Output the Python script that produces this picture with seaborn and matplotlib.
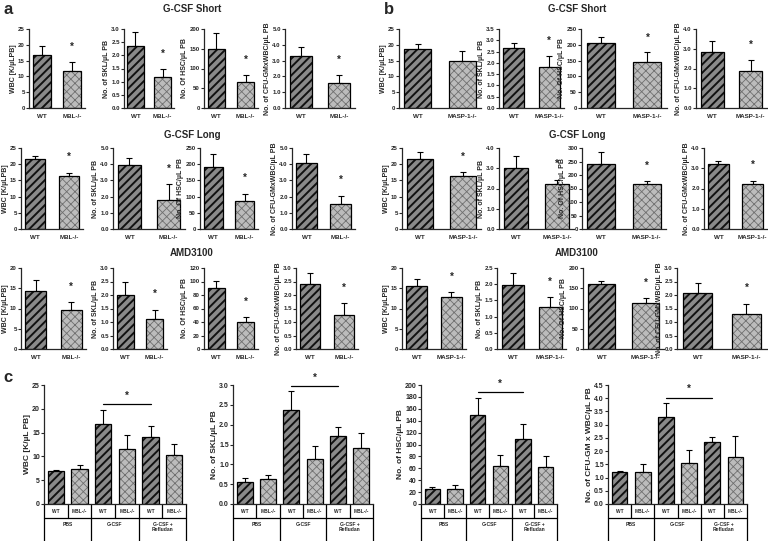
import numpy as np
import pandas as pd
import matplotlib
matplotlib.use("Agg")
import matplotlib.pyplot as plt
from matplotlib.patches import Rectangle
from matplotlib.ticker import FormatStrFormatter
import seaborn as sns

# ---------------- data ----------------
ylabels_ab = ["WBC [K/µLPB]", "No. of SKL/µL PB", "No. Of HSC/µL PB", "No. of CFU-GMxWBC/µL PB"]
ylabels_c = ["WBC [K/µL PB]", "No. of SKL/µL PB", "No. of HSC/µL PB", "No. of CFU-GM x WBC/µL PB"]
conditions = ["G-CSF Short", "G-CSF Long", "AMD3100"]
tick_fmt = ["%d", "%.1f", "%d", "%.1f"]

# panel a : WT vs MBL-/-, one value per measure (WBC, SKL, HSC, CFU-GM)
a_short_wt = [16.9, 2.37, 149, 3.31]
a_short_wt_sem = [2.8, 0.50, 42, 0.55]
a_short_ko = [11.8, 1.16, 66, 1.58]
a_short_ko_sem = [2.8, 0.32, 18, 0.53]
a_short_sig = [True, True, True, True]

a_long_wt = [21.6, 3.93, 191, 4.08]
a_long_wt_sem = [0.9, 0.43, 40, 0.52]
a_long_ko = [16.3, 1.81, 87, 1.56]
a_long_ko_sem = [1.1, 0.96, 22, 0.50]
a_long_sig = [True, True, True, True]

a_amd_wt = [14.2, 2.01, 91, 2.39]
a_amd_wt_sem = [2.8, 0.49, 10, 0.43]
a_amd_ko = [9.7, 1.12, 40, 1.27]
a_amd_ko_sem = [1.9, 0.34, 7, 0.42]
a_amd_sig = [True, True, True, True]

# panel b : WT vs MASP-1-/-
b_short_wt = [18.7, 2.66, 205, 2.84]
b_short_wt_sem = [1.5, 0.22, 21, 0.54]
b_short_ko = [14.8, 1.82, 145, 1.89]
b_short_ko_sem = [3.1, 0.47, 31, 0.56]
b_short_sig = [False, True, True, True]

b_long_wt = [21.7, 3.01, 240, 3.21]
b_long_wt_sem = [2.0, 0.58, 44, 0.16]
b_long_ko = [16.3, 2.22, 168, 2.22]
b_long_ko_sem = [1.2, 0.22, 8, 0.17]
b_long_sig = [True, True, True, True]

b_amd_wt = [15.6, 1.99, 160, 2.07]
b_amd_wt_sem = [1.7, 0.36, 8, 0.37]
b_amd_ko = [12.8, 1.29, 114, 1.30]
b_amd_ko_sem = [1.2, 0.30, 12, 0.38]
b_amd_sig = [True, True, True, True]

# axis ranges (max, step) for each small plot
a_short_ylim = [(25, 5), (3.0, 0.5), (200, 50), (5.0, 1.0)]
a_long_ylim = [(25, 5), (5.0, 1.0), (250, 50), (5.0, 1.0)]
a_amd_ylim = [(20, 5), (3.0, 0.5), (120, 20), (3.0, 0.5)]
b_short_ylim = [(25, 5), (3.5, 0.5), (250, 50), (4.0, 1.0)]
b_long_ylim = [(25, 5), (4.0, 1.0), (300, 50), (4.0, 1.0)]
b_amd_ylim = [(20, 5), (2.5, 0.5), (200, 50), (3.0, 0.5)]

# panel c : PBS / G-CSF / G-CSF + Refludan, WT and MBL-/-
c_treatments = ["PBS", "G-CSF", "G-CSF +\nRefludan"]
c_genotypes = ["WT", "MBL-/-"]
c_wbc = [6.95, 7.3, 16.9, 11.6, 14.0, 10.2]
c_wbc_sem = [0.1, 0.8, 2.9, 2.8, 2.4, 2.4]
c_skl = [0.55, 0.62, 2.36, 1.14, 1.72, 1.41]
c_skl_sem = [0.11, 0.11, 0.48, 0.32, 0.21, 0.37]
c_hsc = [25.7, 24.6, 150, 64, 109, 63]
c_hsc_sem = [2.3, 6.8, 28.6, 19, 25.6, 18]
c_cfu = [1.22, 1.22, 3.29, 1.54, 2.36, 1.79]
c_cfu_sem = [0.03, 0.28, 0.53, 0.50, 0.19, 0.78]
c_ylim = [(25, 5), (3.0, 0.5), (200, 20), (4.5, 0.5)]
c_compare = (2, 4)  # G-CSF WT vs G-CSF + Refludan WT

# ---------------- style ----------------
W, H = 768, 541
sns.set_style("ticks")
plt.rcParams["font.family"] = ["Liberation Sans", "DejaVu Sans"]
plt.rcParams["hatch.linewidth"] = 1.3
plt.rcParams["axes.linewidth"] = 0.9

# (face, hatch colour, hatch, hatch width)
WT_STYLE = ("#8a8a8a", "#111111", "////", 1.4)
KO_STYLE = ("#bcbcbc", "#6f6f6f", "xxxx", 0.6)

fig = plt.figure(figsize=(W / 100, H / 100), dpi=100)


def px_axes(x0, x1, top, bottom):
    return fig.add_axes([x0 / W, 1 - bottom / H, (x1 - x0) / W, (bottom - top) / H])


def draw_bars(ax, names, kinds, means, sems, width):
    df = pd.DataFrame({"name": names, "mean": means})
    styles = [WT_STYLE if k == "wt" else KO_STYLE for k in kinds]
    sns.barplot(data=df, x="name", y="mean", hue="name", palette=[s[0] for s in styles],
                legend=False, width=width, saturation=1, errorbar=None, ax=ax)
    bars = list(ax.patches)
    for p, st in zip(bars, styles):
        p.set_hatch(st[2])
        p.set_edgecolor(st[1])
        p.set_linewidth(0)
        if hasattr(p, "set_hatch_linewidth"):
            p.set_hatch_linewidth(st[3])
        ax.add_patch(Rectangle(p.get_xy(), p.get_width(), p.get_height(), fill=False,
                               ec="black", lw=0.9, zorder=p.get_zorder() + 0.1))
    xs = [p.get_x() + p.get_width() / 2 for p in bars]
    ax.errorbar(xs, means, yerr=[np.zeros(len(sems)), sems], fmt="none", ecolor="black",
                elinewidth=0.8, capsize=2.2, capthick=0.8, zorder=0.9)
    return xs


def y_axis(ax, ymax, step, fmt, ylabel, tsize, lsize):
    ax.set_ylim(0, ymax)
    ax.set_yticks(np.arange(0, ymax + step / 2, step))
    ax.yaxis.set_major_formatter(FormatStrFormatter(fmt))
    ax.tick_params(axis="y", length=2, width=0.8, pad=1, labelsize=tsize)
    for t in ax.get_yticklabels():
        t.set_fontweight("bold")
    ax.set_ylabel(ylabel, fontsize=lsize, fontweight="bold", labelpad=1)
    sns.despine(ax=ax)


def small_plot(box, top, bottom, i, kolabel, wt, wt_sem, ko, ko_sem, ylim, sig):
    ax = px_axes(box[0], box[1], top, bottom)
    ymax, step = ylim[i]
    xs = draw_bars(ax, ["WT", kolabel], ["wt", "ko"], [wt[i], ko[i]], [wt_sem[i], ko_sem[i]], 0.6)
    ax.set_xlim(-0.42, 1.42)
    y_axis(ax, ymax, step, tick_fmt[i], ylabels_ab[i], 4.4, 5)
    ax.set_xlabel("")
    ax.tick_params(axis="x", length=0, pad=4, labelsize=4.5)
    for t in ax.get_xticklabels():
        t.set_fontweight("bold")
    if sig[i]:
        ax.text(xs[1], ko[i] + ko_sem[i] + 0.19 * ymax, "*", ha="center", va="center",
                fontsize=7, fontweight="bold")


# ---------------- panels a and b ----------------
row_tops = [29, 148, 268]
row_bottoms = [108, 229, 349]
a_boxes = [[(29, 85), (124, 174), (204, 258), (285, 355)],
           [(21, 83), (113, 185), (200, 258), (292, 355)],
           [(21, 86), (113, 167), (204, 258), (296, 358)]]
b_boxes = [[(399, 481), (499, 564), (581, 667), (696, 767)],
           [(402, 481), (499, 574), (582, 666), (704, 767)],
           [(402, 466), (497, 566), (583, 664), (677, 767)]]

a_rows = [(a_short_wt, a_short_wt_sem, a_short_ko, a_short_ko_sem, a_short_ylim, a_short_sig),
          (a_long_wt, a_long_wt_sem, a_long_ko, a_long_ko_sem, a_long_ylim, a_long_sig),
          (a_amd_wt, a_amd_wt_sem, a_amd_ko, a_amd_ko_sem, a_amd_ylim, a_amd_sig)]
b_rows = [(b_short_wt, b_short_wt_sem, b_short_ko, b_short_ko_sem, b_short_ylim, b_short_sig),
          (b_long_wt, b_long_wt_sem, b_long_ko, b_long_ko_sem, b_long_ylim, b_long_sig),
          (b_amd_wt, b_amd_wt_sem, b_amd_ko, b_amd_ko_sem, b_amd_ylim, b_amd_sig)]

title_y = [9, 135, 253]
for r in range(3):
    for i in range(4):
        small_plot(a_boxes[r][i], row_tops[r], row_bottoms[r], i, "MBL-/-", *a_rows[r])
        small_plot(b_boxes[r][i], row_tops[r], row_bottoms[r], i, "MASP-1-/-", *b_rows[r])
    fig.text(192 / W, 1 - title_y[r] / H, conditions[r], ha="center", va="center",
             fontsize=7, fontweight="bold")
    fig.text(577 / W, 1 - title_y[r] / H, conditions[r], ha="center", va="center",
             fontsize=7, fontweight="bold")

# ---------------- panel c ----------------
c_boxes = [(44, 186), (233, 373), (421, 557), (608, 747)]
c_data = [(c_wbc, c_wbc_sem), (c_skl, c_skl_sem), (c_hsc, c_hsc_sem), (c_cfu, c_cfu_sem)]
c_names = [f"{t} {g}" for t in c_treatments for g in c_genotypes]
c_kinds = ["wt", "ko"] * len(c_treatments)

for i, (x0, x1) in enumerate(c_boxes):
    ax = px_axes(x0, x1, 385, 504)
    means, sems = c_data[i]
    ymax, step = c_ylim[i]
    xs = draw_bars(ax, c_names, c_kinds, means, sems, 0.68)
    n = len(c_names)
    ax.set_xlim(-0.5, n - 0.5)
    y_axis(ax, ymax, step, tick_fmt[i], ylabels_c[i], 5, 6)
    ax.set_xlabel("")
    ax.set_xticks([])

    # category table under the axis
    tr = ax.get_xaxis_transform()
    for b in np.arange(-0.5, n, 1.0):
        long_line = (b + 0.5) % len(c_genotypes) == 0
        ax.plot([b, b], [0, -0.4 if long_line else -0.118], transform=tr, clip_on=False,
                color="black", lw=0.9)
    ax.plot([-0.5, n - 0.5], [-0.118, -0.118], transform=tr, clip_on=False, color="black", lw=0.9)
    for j, name in enumerate(c_names):
        ax.text(j, -0.06, c_genotypes[j % 2], transform=tr, ha="center", va="center",
                fontsize=3.5, fontweight="bold")
    for k, t in enumerate(c_treatments):
        ax.text(2 * k + 0.5, -0.15, t, transform=tr, ha="center", va="top",
                fontsize=3.6, fontweight="bold", linespacing=1.1)

    # significance bracket
    j0, j1 = c_compare
    top = max(m + s for m, s in zip(means[j0:j1 + 1], sems[j0:j1 + 1]))
    ysig = top + 0.045 * ymax
    ax.plot([xs[j0], xs[j1]], [ysig, ysig], color="black", lw=0.9, clip_on=False)
    ax.text((xs[j0] + xs[j1]) / 2, ysig + 0.07 * ymax, "*", ha="center", va="center",
            fontsize=7, fontweight="bold")

# panel letters
for letter, x, y in [("a", 8, 9), ("b", 389, 9), ("c", 8, 378)]:
    fig.text(x / W, 1 - y / H, letter, ha="center", va="center", fontsize=12, fontweight="bold")

fig.savefig("out.png", dpi=100)
